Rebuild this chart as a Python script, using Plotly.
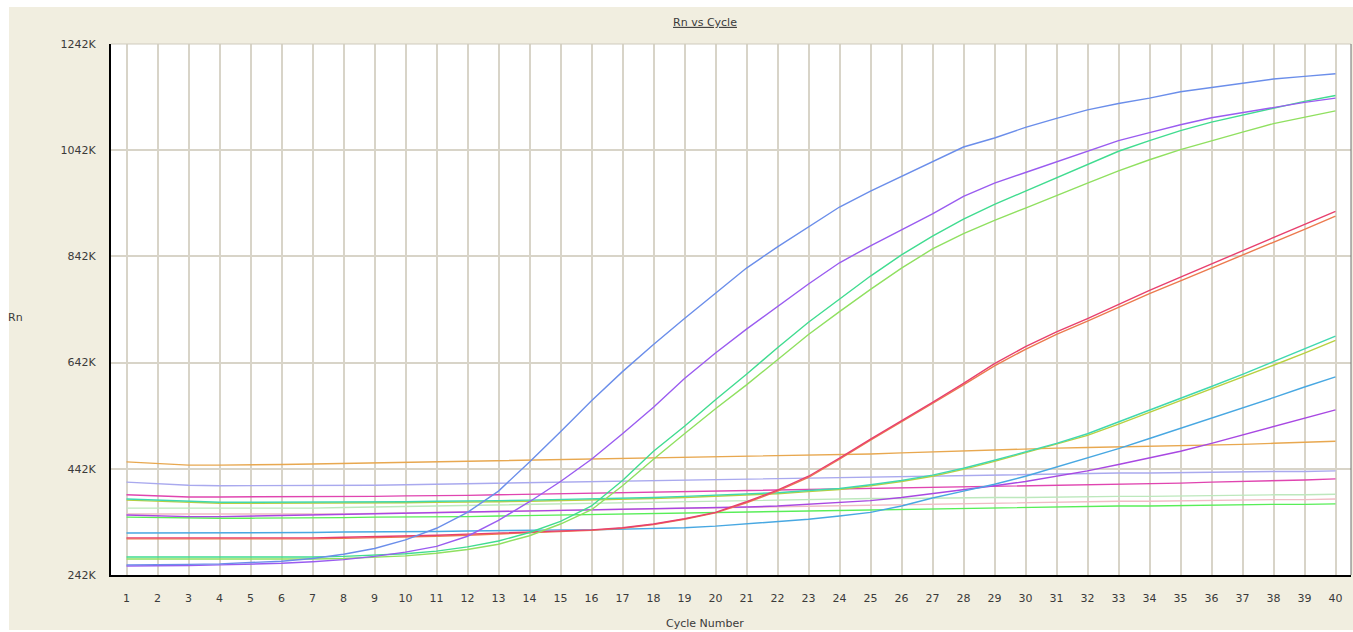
import plotly.graph_objects as go

# Amplification plot: normalised reporter signal (Rn, in thousands) per PCR cycle
cycles = list(range(1, 41))

blue_early = [261, 261, 262, 263, 265, 268, 273, 281, 292, 308, 330, 360, 400, 455, 512, 570, 625, 676, 725, 772,
              820, 860, 898, 935, 965, 993, 1020, 1048, 1065, 1085, 1102, 1118, 1130, 1140, 1152, 1160, 1168, 1176, 1181, 1186]
purple_early = [259, 259, 260, 261, 262, 264, 267, 271, 277, 285, 296, 315, 345, 380, 418, 460, 508, 558, 612, 660,
                705, 748, 790, 830, 862, 892, 922, 955, 980, 1000, 1020, 1040, 1060, 1075, 1090, 1103, 1113, 1123, 1132, 1140]
mint_early = [276, 276, 275, 275, 275, 275, 276, 277, 279, 282, 287, 295, 306, 322, 343, 372, 420, 475, 522, 572,
              620, 670, 718, 762, 805, 845, 880, 912, 940, 965, 990, 1015, 1040, 1060, 1079, 1095, 1108, 1122, 1134, 1145]
lime_early = [272, 272, 271, 271, 271, 271, 272, 273, 275, 278, 283, 290, 300, 316, 338, 365, 410, 460, 508, 555,
              600, 648, 695, 738, 780, 820, 856, 885, 910, 933, 957, 980, 1003, 1024, 1043, 1060, 1076, 1092, 1104, 1116]
red_mid = [312, 312, 311, 311, 311, 312, 312, 313, 314, 315, 317, 319, 321, 323, 325, 327, 331, 338, 348, 360,
           380, 402, 428, 462, 498, 532, 567, 603, 640, 672, 700, 725, 752, 778, 803, 828, 853, 878, 902, 927]
coral_mid = [310, 310, 309, 309, 309, 310, 310, 311, 312, 313, 315, 317, 319, 321, 323, 326, 330, 337, 347, 359,
             378, 400, 426, 460, 496, 530, 565, 600, 636, 667, 695, 720, 746, 772, 796, 820, 845, 869, 893, 918]
teal_late = [385, 383, 380, 379, 379, 379, 379, 380, 380, 380, 381, 381, 382, 383, 384, 385, 386, 388, 390, 392,
             394, 397, 401, 405, 412, 420, 430, 443, 458, 474, 490, 508, 530, 552, 575, 597, 620, 644, 668, 692]
olive_late = [383, 381, 378, 377, 377, 377, 377, 378, 378, 378, 379, 379, 380, 381, 382, 383, 384, 386, 388, 390,
              392, 395, 399, 403, 410, 418, 428, 441, 456, 472, 488, 505, 526, 548, 570, 592, 614, 637, 660, 684]
sky_late = [321, 321, 321, 321, 322, 322, 322, 323, 323, 324, 324, 325, 326, 326, 327, 327, 328, 329, 331, 334,
            338, 342, 347, 353, 360, 372, 387, 400, 413, 428, 445, 462, 480, 499, 518, 537, 556, 576, 596, 615]
violet_late = [355, 353, 352, 352, 353, 354, 355, 356, 357, 358, 359, 360, 361, 362, 363, 364, 365, 366, 367, 368,
               370, 372, 375, 378, 382, 388, 395, 402, 410, 418, 428, 438, 450, 462, 475, 490, 506, 522, 537, 553]
amber_flat = [455, 452, 449, 449, 449, 450, 451, 452, 453, 454, 455, 456, 457, 458, 459, 460, 461, 462, 463, 464,
              465, 466, 467, 468, 470, 472, 474, 476, 478, 480, 481, 482, 483, 484, 485, 487, 488, 490, 492, 494]
lavender_flat = [417, 414, 411, 410, 410, 410, 410, 410, 411, 412, 413, 414, 415, 416, 417, 418, 419, 419, 420, 421,
                 422, 423, 424, 425, 427, 428, 429, 430, 431, 432, 432, 433, 434, 434, 435, 436, 436, 437, 437, 438]
magenta_flat = [393, 391, 389, 389, 389, 389, 390, 390, 390, 391, 391, 392, 393, 394, 395, 396, 397, 398, 399, 400,
                401, 402, 403, 404, 405, 406, 407, 408, 408, 409, 410, 411, 412, 413, 415, 417, 418, 420, 421, 423]
palegreen_flat = [368, 368, 367, 367, 367, 367, 368, 369, 370, 371, 372, 374, 375, 376, 377, 378, 379, 380, 381, 382,
                  383, 384, 385, 385, 386, 386, 387, 387, 388, 388, 389, 389, 390, 390, 391, 391, 392, 393, 393, 394]
palepink_flat = [357, 357, 356, 356, 356, 356, 357, 357, 358, 359, 360, 361, 362, 363, 364, 365, 366, 367, 368, 369,
                 370, 371, 372, 373, 374, 375, 376, 377, 378, 379, 380, 380, 381, 381, 382, 383, 383, 384, 384, 385]
green_flat = [351, 350, 349, 349, 349, 349, 350, 350, 351, 351, 352, 352, 353, 354, 355, 356, 357, 358, 359, 360,
              361, 362, 363, 364, 365, 366, 367, 368, 369, 370, 371, 371, 372, 372, 373, 374, 374, 375, 375, 376]

y_ticks = [242, 442, 642, 842, 1042, 1242]
y_tick_labels = ["242K", "442K", "642K", "842K", "1042K", "1242K"]

x_range = [0.5, 40.5]
y_range = [242, 1242]

wells = [
    ("amber", amber_flat, "#E8A850"),
    ("lavender", lavender_flat, "#A9A9EE"),
    ("palegreen", palegreen_flat, "#BDE8BD"),
    ("palepink", palepink_flat, "#F0BCC4"),
    ("green", green_flat, "#58EE58"),
    ("magenta", magenta_flat, "#E045B0"),
    ("violet_late", violet_late, "#A848E2"),
    ("sky_late", sky_late, "#48A8E2"),
    ("olive_late", olive_late, "#B8D040"),
    ("teal_late", teal_late, "#40D8B0"),
    ("coral_mid", coral_mid, "#EC7A4E"),
    ("red_mid", red_mid, "#E8406E"),
    ("lime_early", lime_early, "#90E060"),
    ("mint_early", mint_early, "#40DC90"),
    ("purple_early", purple_early, "#9A5CF0"),
    ("blue_early", blue_early, "#6B8EEA"),
]

fig = go.Figure()
for name, vals, col in wells:
    fig.add_trace(go.Scatter(x=cycles, y=vals, mode="lines", name=name,
                             line=dict(color=col, width=1.4), hoverinfo="x+y"))

W, H = 1353, 632
ml, mr, mt, mb = 111, 2, 44, 57
ph = H - mt - mb
pw = W - ml - mr
PANEL = "#F1EEE0"


def px_x(px):
    """Horizontal pixel position -> paper coordinate."""
    return (px - ml) / pw


def px_y(py):
    """Vertical pixel position (from top) -> paper coordinate."""
    return 1 - (py - mt) / ph


def panel_band(x0, x1, y0, y1):
    """Beige band of the window frame, given in pixel coordinates."""
    return dict(type="rect", xref="paper", yref="paper", layer="below",
                x0=px_x(x0), x1=px_x(x1), y0=px_y(y0), y1=px_y(y1),
                fillcolor=PANEL, line=dict(width=0))


font = dict(family="DejaVu Sans, Verdana, sans-serif", size=11, color="#3A3A3A")

fig.update_layout(
    width=W, height=H,
    margin=dict(l=ml, r=mr, t=mt, b=mb),
    template="none",
    paper_bgcolor="#FFFFFF",
    plot_bgcolor="#FFFFFF",
    showlegend=False,
    font=font,
    title=dict(text="<u>Rn vs Cycle</u>", x=705 / W, xanchor="center",
               y=1 - 22 / H, yanchor="middle", font=dict(size=11, color="#3A3A3A")),
    xaxis=dict(range=x_range, tickmode="array", tickvals=cycles,
               ticktext=[str(c) for c in cycles], showgrid=True,
               gridcolor="#D8D4C8", gridwidth=1.5, zeroline=False,
               showline=True, linecolor="#000000", linewidth=2,
               ticks="", ticklabelstandoff=12, tickfont=font),
    yaxis=dict(range=y_range, tickmode="array", tickvals=y_ticks,
               ticktext=y_tick_labels, showgrid=True,
               gridcolor="#D8D4C8", gridwidth=1.5, zeroline=False,
               showline=True, linecolor="#000000", linewidth=2,
               ticks="", ticklabelstandoff=11, tickfont=font),
    shapes=[
        # beige frame around the white plotting area
        panel_band(9, W, 7, mt),
        panel_band(9, W, H - mb, 630),
        panel_band(9, ml, mt, H - mb),
        panel_band(W - mr, W, mt, H - mb),
        # thin top / right frame of the plotting area
        dict(type="line", xref="paper", yref="paper", x0=0, x1=1, y0=1, y1=1,
             line=dict(color="#CFCBBE", width=1)),
        dict(type="line", xref="paper", yref="paper", x0=1, x1=1, y0=0, y1=1,
             line=dict(color="#6E6E6E", width=1)),
    ],
    annotations=[
        dict(text="Rn", xref="paper", yref="paper", x=px_x(15), y=px_y(318),
             xanchor="center", yanchor="middle", showarrow=False, font=font),
        dict(text="Cycle Number", xref="paper", yref="paper", x=px_x(705), y=px_y(623),
             xanchor="center", yanchor="middle", showarrow=False, font=font),
    ],
)

fig.write_html("out.html")
